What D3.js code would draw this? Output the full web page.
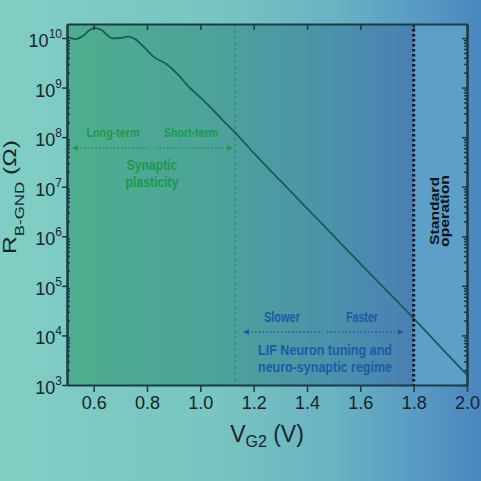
<!DOCTYPE html>
<html>
<head>
<meta charset="utf-8">
<script src="https://cdn.jsdelivr.net/npm/d3@7"></script>
<style>
  body { margin: 0; }
  svg { display: block; }
</style>
</head>
<body>
<svg id="chart" width="481" height="481"></svg>
<script>
const vg2 = [0.50, 0.53, 0.567, 0.585, 0.605, 0.63, 0.65, 0.668, 0.70, 0.73, 0.755, 0.786,
  0.824, 0.874, 0.911, 0.961, 1.011, 1.0475, 1.086, 1.136, 1.2, 1.3, 1.4, 1.5,
  1.6, 1.7, 1.8, 1.9, 2.0];
const rBGnd = [1.07e10, 9.5e9, 1.18e10, 1.45e10, 1.58e10, 1.45e10, 1.15e10, 9.8e9, 1.0e10,
  1.07e10, 9.5e9, 6.8e9, 4.2e9, 2.95e9, 1.95e9, 9.8e8, 5.6e8, 3.55e8, 2.14e8, 1.15e8,
  4.8e7, 1.32e7, 3.67e6, 1.02e6, 2.8e5, 7.9e4, 2.2e4, 5.9e3, 1.6e3];

const xTicks = [0.6, 0.8, 1.0, 1.2, 1.4, 1.6, 1.8, 2.0];
const yExponents = [3, 4, 5, 6, 7, 8, 9, 10];
const plasticityEdge = 1.13;   // thin dashed divider
const standardEdge = 1.8;      // thick dotted divider

const margin = { top: 24, right: 14, bottom: 96, left: 67 };
const width = 481 - margin.left - margin.right;
const height = 481 - margin.top - margin.bottom;

const svg = d3.select('#chart');
const defs = svg.append('defs');

// page background
const bg = defs.append('linearGradient').attr('id', 'bg');
[['0', '#80cec4'], ['0.45', '#79c5c1'], ['0.7', '#68b2c2'], ['0.88', '#5799c2'], ['1', '#4a86bf']]
  .forEach(s => bg.append('stop').attr('offset', s[0]).attr('stop-color', s[1]));
svg.append('rect').attr('width', 481).attr('height', 481).attr('fill', 'url(#bg)');

const g = svg.append('g').attr('transform', `translate(${margin.left},${margin.top})`);

const x = d3.scaleLinear().domain([0.5, 2.0]).range([0, width]);
const y = d3.scaleLog().domain([1e3, Math.pow(10, 10 + 14 / 49.57)]).range([height, 0]);

// plot area fills
const pg = defs.append('linearGradient').attr('id', 'plotbg');
[['0', '#4fae8e'], ['0.45', '#4ca29a'], ['0.75', '#4b92aa'], ['1', '#4a80b4']]
  .forEach(s => pg.append('stop').attr('offset', s[0]).attr('stop-color', s[1]));
g.append('rect')
  .attr('width', x(standardEdge)).attr('height', height)
  .attr('fill', 'url(#plotbg)');
g.append('rect')
  .attr('x', x(standardEdge)).attr('width', width - x(standardEdge)).attr('height', height)
  .attr('fill', '#5e9fc7');

// dividers
g.append('line')
  .attr('x1', x(plasticityEdge)).attr('x2', x(plasticityEdge))
  .attr('y1', 0).attr('y2', height)
  .attr('stroke', '#2d6f72').attr('stroke-width', 0.8).attr('stroke-dasharray', '3,3');

// the curve
const line = d3.line().x((d, i) => x(vg2[i])).y(d => y(d)).curve(d3.curveMonotoneX);
g.append('path')
  .datum(rBGnd)
  .attr('d', line)
  .attr('fill', 'none')
  .attr('stroke', '#1b5a5c')
  .attr('stroke-width', 1.8);

g.append('line')
  .attr('x1', x(standardEdge)).attr('x2', x(standardEdge))
  .attr('y1', 0).attr('y2', height)
  .attr('stroke', '#0c1826').attr('stroke-width', 3).attr('stroke-dasharray', '2.5,2.5');

// axes
const axisColor = '#1c3a44';
const minors = [];
yExponents.slice(0, -1).forEach(e => {
  for (let k = 2; k <= 9; k++) minors.push(k * Math.pow(10, e));
});
for (let k = 2; k <= 9; k++) if (k * 1e10 <= y.domain()[1]) minors.push(k * 1e10);
const majors = yExponents.map(e => Math.pow(10, e));

function styleAxis(sel) {
  sel.select('.domain').attr('stroke', axisColor).attr('stroke-width', 2);
  sel.selectAll('.tick line').attr('stroke', axisColor).attr('stroke-width', 1.5);
}

g.append('g')
  .attr('transform', `translate(0,${height})`)
  .call(d3.axisBottom(x).tickValues(xTicks).tickSize(7).tickSizeOuter(0).tickFormat(d3.format('.1f')))
  .call(styleAxis)
  .call(a => a.selectAll('.tick text')
    .attr('y', 11).attr('dy', '0.71em')
    .attr('fill', '#14262c').attr('font-size', 18)
    .attr('font-family', 'Liberation Sans, Arial, sans-serif'));

g.append('g')
  .call(d3.axisTop(x).tickValues(xTicks).tickSize(-6).tickSizeOuter(0).tickFormat(''))
  .call(styleAxis);

g.append('g')
  .call(d3.axisLeft(y).tickValues(majors).tickSize(5).tickSizeOuter(0).tickFormat(''))
  .call(styleAxis);
g.append('g')
  .call(d3.axisLeft(y).tickValues(minors).tickSize(-3).tickSizeOuter(0).tickFormat(''))
  .call(styleAxis);

g.append('g')
  .attr('transform', `translate(${width},0)`)
  .call(d3.axisRight(y).tickValues(majors).tickSize(-5).tickSizeOuter(0).tickFormat(''))
  .call(styleAxis);
g.append('g')
  .attr('transform', `translate(${width},0)`)
  .call(d3.axisRight(y).tickValues(minors).tickSize(-3).tickSizeOuter(0).tickFormat(''))
  .call(styleAxis);

// y tick labels with superscript exponents
const yLab = g.append('g')
  .attr('font-family', 'Liberation Sans, Arial, sans-serif')
  .attr('fill', '#14262c');
yExponents.forEach(e => {
  const t = yLab.append('text')
    .attr('x', -5).attr('y', y(Math.pow(10, e)) + 9)
    .attr('text-anchor', 'end');
  t.append('tspan').attr('font-size', 18).text('10');
  t.append('tspan').attr('font-size', 12).attr('dy', -9).text(e);
});

// axis titles
const xt = svg.append('text')
  .attr('x', margin.left + width / 2).attr('y', 442)
  .attr('text-anchor', 'middle')
  .attr('font-family', 'Liberation Sans, Arial, sans-serif')
  .attr('fill', '#14262c');
xt.append('tspan').attr('font-size', 23).text('V');
xt.append('tspan').attr('font-size', 16).attr('dy', 5).text('G2');
xt.append('tspan').attr('font-size', 23).attr('dy', -5).text(' (V)');

const yt = svg.append('text')
  .attr('transform', 'translate(16,197) rotate(-90) scale(1.3,1)')
  .attr('text-anchor', 'middle')
  .attr('font-family', 'Liberation Sans, Arial, sans-serif')
  .attr('fill', '#14262c');
yt.append('tspan').attr('font-size', 19).text('R');
yt.append('tspan').attr('font-size', 13).attr('dy', 8).text('B-GND');
yt.append('tspan').attr('font-size', 19).attr('dy', -8).text(' (\u03A9)');

// annotations
const green = '#1c9a4b';
const blue = '#1b5ba6';
const narrow = 'Liberation Sans Narrow, Arial Narrow, Liberation Sans, sans-serif';

function marker(id, color) {
  defs.append('marker')
    .attr('id', id).attr('viewBox', '0 0 10 10')
    .attr('refX', 9).attr('refY', 5)
    .attr('markerWidth', 6).attr('markerHeight', 6).attr('markerUnits', 'userSpaceOnUse')
    .attr('orient', 'auto-start-reverse')
    .append('path').attr('d', 'M0,0L10,5L0,10Z').attr('fill', color);
}
marker('ag', green);
marker('ab', blue);

function dottedArrow(x1, xm1, xm2, x2, yy, color, id) {
  svg.append('line').attr('x1', x1).attr('x2', xm1).attr('y1', yy).attr('y2', yy)
    .attr('stroke', color).attr('stroke-width', 1.4).attr('stroke-dasharray', '1.5,2.2')
    .attr('marker-start', `url(#${id})`);
  svg.append('line').attr('x1', xm2).attr('x2', x2).attr('y1', yy).attr('y2', yy)
    .attr('stroke', color).attr('stroke-width', 1.4).attr('stroke-dasharray', '1.5,2.2')
    .attr('marker-end', `url(#${id})`);
}

function label(txt, cx, by, size, len, color) {
  svg.append('text')
    .attr('x', cx).attr('y', by)
    .attr('text-anchor', 'middle')
    .attr('font-family', narrow).attr('font-weight', 'bold')
    .attr('font-size', size).attr('fill', color)
    .attr('textLength', len).attr('lengthAdjust', 'spacingAndGlyphs')
    .text(txt);
}

label('Long-term', 113, 137, 12, 53, green);
label('Short-term', 191, 137, 12, 54, green);
dottedArrow(73, 148, 156, 232, 148, green, 'ag');
label('Synaptic', 152, 170, 15, 51, green);
label('plasticity', 152, 187, 15, 53, green);

label('Slower', 282, 322, 14, 36, blue);
label('Faster', 362, 322, 14, 32, blue);
dottedArrow(244, 320, 327, 403, 332, blue, 'ab');
label('LIF Neuron tuning and', 325, 355, 15, 134, blue);
label('neuro-synaptic regime', 325, 372, 15, 134, blue);

// rotated label for the standard region
[['Standard', 438.5, 68], ['operation', 449, 72]].forEach(([txt, bx, len]) => {
  svg.append('text')
    .attr('transform', `translate(${bx},211) rotate(-90)`)
    .attr('text-anchor', 'middle')
    .attr('font-family', 'Liberation Sans, Arial, sans-serif').attr('font-weight', 'bold')
    .attr('font-size', 12).attr('fill', '#0d1418')
    .attr('textLength', len).attr('lengthAdjust', 'spacingAndGlyphs')
    .text(txt);
});
</script>
</body>
</html>
